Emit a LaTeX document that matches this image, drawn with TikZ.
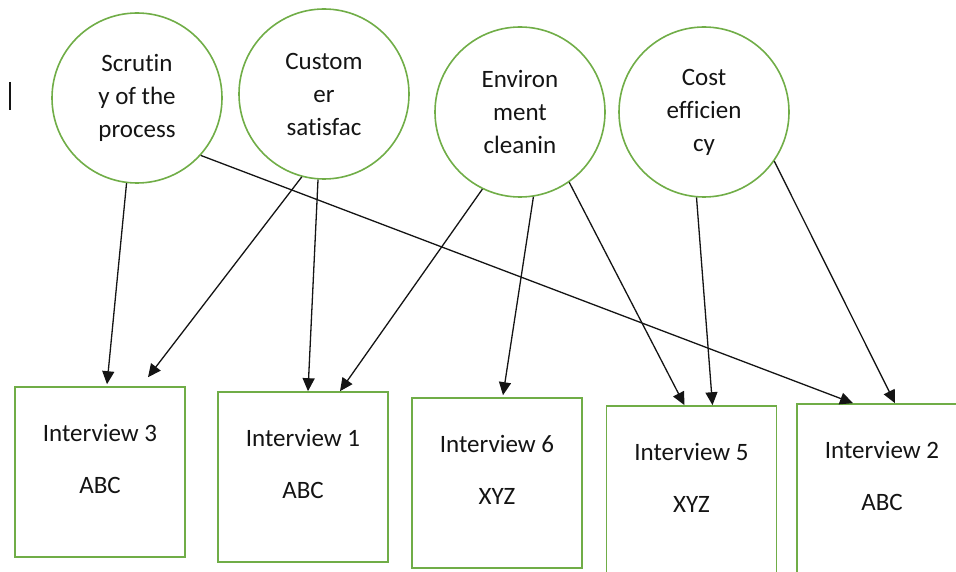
\documentclass[tikz,border=0pt]{standalone}
\usepackage{fontspec}
\setmainfont{Carlito}[Ligatures={NoCommon}]
\usepackage{tikz}
\usetikzlibrary{arrows.meta}
\definecolor{ogreen}{HTML}{70AD47}
\definecolor{ink}{HTML}{141414}
\tikzset{
  topic/.style={circle, draw=ogreen, line width=1.6pt, minimum size=170pt, inner sep=0pt, align=center, font=\fontsize{25}{33}\selectfont, text=ink},
  ibox/.style={rectangle, draw=ogreen, line width=1.6pt, minimum width=170pt, minimum height=170pt, inner sep=0pt},
  itext/.style={align=center, font=\fontsize{25}{52}\selectfont, text=ink},
  link/.style={-{Triangle[length=13pt,width=12pt]}, line width=1.3pt, ink},
}

\begin{document}
\begin{tikzpicture}[x=1pt, y=-1pt]
\clip (0,0) rectangle (956,572);
% cursor mark
\draw[ink, line width=1.2pt] (10,82) -- (10,110);
% topics
\node[topic] (scrut) at (137,98) {Scrutin\\y of the\\process};
\node[topic] (cust) at (324,94) {Custom\\er\\satisfac};
\node[topic] (env) at (520,112) {Environ\\ment\\cleanin};
\node[topic] (cost) at (704,112) {Cost\\efficien\\cy};
% interviews
\node[ibox] (iv3) at (100,472) {};
\node[ibox] (iv1) at (303,477) {};
\node[ibox] (iv6) at (497,483) {};
\node[ibox] (iv5) at (691.5,491) {};
\node[ibox] (iv2) at (882,489) {};
\node[itext] (t3) at ([yshift=13pt]iv3.center) {Interview 3\\ABC};
\node[itext] (t1) at ([yshift=13pt]iv1.center) {Interview 1\\ABC};
\node[itext] (t6) at ([yshift=13pt]iv6.center) {Interview 6\\XYZ};
\node[itext] (t5) at ([yshift=13pt]iv5.center) {Interview 5\\XYZ};
\node[itext] (t2) at ([yshift=13pt]iv2.center) {Interview 2\\ABC};
% links
\draw[link] (scrut.-97) -- ([xshift=7pt, yshift=2pt]iv3.north);
\draw[link] (scrut.-42) -- ([xshift=-29pt]iv2.north);
\draw[link] (cust.-105) -- ([xshift=48pt, yshift=9pt]iv3.north);
\draw[link] (cust.-94) -- ([xshift=5pt]iv1.north);
\draw[link] (env.-116) -- ([xshift=37pt]iv1.north);
\draw[link] (env.-81) -- ([xshift=6pt, yshift=2pt]iv6.north);
\draw[link] (env.-55) -- ([xshift=-7pt]iv5.north);
\draw[link] (cost.-95) -- ([xshift=21pt]iv5.north);
\draw[link] (cost.-35) -- ([xshift=13pt]iv2.north);
\end{tikzpicture}
\end{document}
